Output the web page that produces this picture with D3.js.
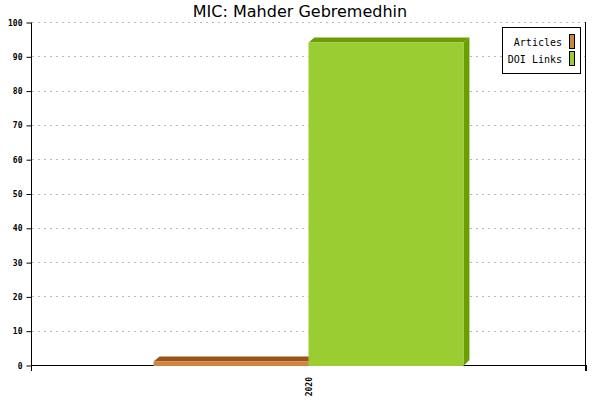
<!DOCTYPE html>
<html>
<head>
<meta charset="utf-8">
<script src="https://cdn.jsdelivr.net/npm/d3@7"></script>
<style>
  body { margin: 0; background: #fff; }
  svg { display: block; }
</style>
</head>
<body>
<script>
// chart data
const categories = ["2020"];
const seriesNames = ["Articles", "DOI Links"];
const articles = [1];
const doiLinks = [94];
const yTicks = [0, 10, 20, 30, 40, 50, 60, 70, 80, 90, 100];

const frontColors = ["#cd853f", "#9acd32"];
const darkColors = ["#9c5418", "#6b9e00"];

const width = 600, height = 400;
const plotLeft = 31, plotRight = 586, plotTop = 22, plotBottom = 365;
const depthX = 6, depthY = 5;

const svg = d3.select("body").append("svg")
  .attr("width", width).attr("height", height);

svg.append("text")
  .attr("x", 300).attr("y", 17)
  .attr("text-anchor", "middle")
  .attr("font-family", "DejaVu Sans, sans-serif")
  .attr("font-size", 16)
  .text("MIC: Mahder Gebremedhin");

const y = d3.scaleLinear().domain([0, 100]).range([plotBottom, plotTop]);
const x = d3.scaleBand().domain(categories).range([plotLeft, plotRight]).padding(0.2834);
const xs = d3.scaleBand().domain(seriesNames).range([0, x.bandwidth()]);

// dashed grid
svg.append("g").selectAll("line")
  .data(yTicks.filter(d => d > 0))
  .enter().append("line")
  .attr("x1", plotLeft + 1).attr("x2", plotRight)
  .attr("y1", d => Math.round(y(d)) + 0.5).attr("y2", d => Math.round(y(d)) + 0.5)
  .attr("stroke", "#bbb")
  .attr("stroke-dasharray", "2,4");

// y axis
const yAxis = svg.append("g").attr("transform", `translate(${plotLeft + 0.5},0.5)`)
  .call(d3.axisLeft(y).tickValues(yTicks).tickSize(5).tickPadding(4));
yAxis.select(".domain").attr("stroke", "#000").attr("d", `M0,${plotTop}V${plotBottom}`);
yAxis.selectAll(".tick line").attr("stroke", "#000").attr("x2", 0).attr("x1", -5);
yAxis.selectAll(".tick text")
  .attr("font-family", "DejaVu Sans Mono, monospace")
  .attr("font-size", 8)
  .attr("font-weight", "bold")
  .attr("fill", "#000");

// x axis line and edge ticks
svg.append("line")
  .attr("x1", plotLeft).attr("x2", plotRight)
  .attr("y1", plotBottom + 0.5).attr("y2", plotBottom + 0.5)
  .attr("stroke", "#000");
svg.append("g").selectAll("line")
  .data(x.range())
  .enter().append("line")
  .attr("x1", d => d + 0.5).attr("x2", d => d + 0.5)
  .attr("y1", plotBottom).attr("y2", plotBottom + 6)
  .attr("stroke", "#000");

// right border
svg.append("line")
  .attr("x1", plotRight - 0.5).attr("x2", plotRight - 0.5)
  .attr("y1", plotTop).attr("y2", plotBottom + 6)
  .attr("stroke", "#000");

// bars with 3d faces
const bars = [];
categories.forEach((c, i) => {
  bars.push({ cat: c, s: 0, v: articles[i] });
  bars.push({ cat: c, s: 1, v: doiLinks[i] });
});

const g = svg.append("g");
bars.forEach(b => {
  const x0 = x(b.cat) + xs(seriesNames[b.s]);
  const x1 = x0 + xs.bandwidth();
  const y0 = y(b.v);
  const bar = g.append("g");
  // top face
  bar.append("path")
    .attr("d", `M${x0},${y0}L${x0 + depthX},${y0 - depthY}L${x1 + depthX},${y0 - depthY}L${x1},${y0}Z`)
    .attr("fill", darkColors[b.s]);
  // side face
  bar.append("path")
    .attr("d", `M${x1},${y0}L${x1 + depthX},${y0 - depthY}L${x1 + depthX},${plotBottom - depthY}L${x1},${plotBottom + 1}Z`)
    .attr("fill", darkColors[b.s]);
  // front
  bar.append("rect")
    .attr("x", x0).attr("y", y0)
    .attr("width", xs.bandwidth()).attr("height", plotBottom + 1 - y0)
    .attr("fill", frontColors[b.s]);
});

// x labels
svg.append("g").selectAll("text")
  .data(categories)
  .enter().append("text")
  .attr("transform", d => `translate(${x(d) + x.bandwidth() / 2 + 3},377) rotate(-90)`)
  .attr("text-anchor", "end")
  .attr("font-family", "DejaVu Sans Mono, monospace")
  .attr("font-size", 8)
  .attr("font-weight", "bold")
  .text(d => d);

// legend
const legend = svg.append("g");
legend.append("rect")
  .attr("x", 502.5).attr("y", 27.5).attr("width", 78).attr("height", 46)
  .attr("fill", "#fff").attr("stroke", "#000");
seriesNames.forEach((name, i) => {
  legend.append("rect")
    .attr("x", 569.5).attr("y", 34.5 + i * 17).attr("width", 5).attr("height", 14)
    .attr("fill", frontColors[i]).attr("stroke", "#000");
  legend.append("text")
    .attr("x", 562).attr("y", 46 + i * 17)
    .attr("text-anchor", "end")
    .attr("font-family", "DejaVu Sans Mono, monospace")
    .attr("font-size", 10)
    .text(name);
});
</script>
</body>
</html>
